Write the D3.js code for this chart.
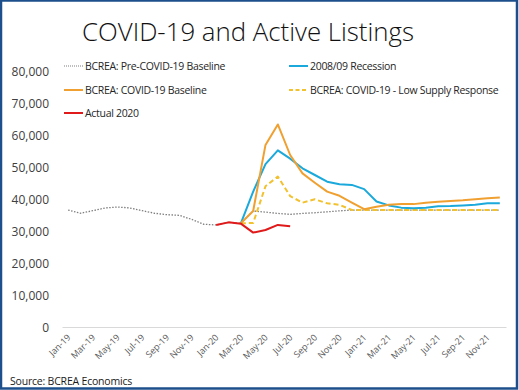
<!DOCTYPE html>
<html>
<head>
<meta charset="utf-8">
<script src="https://cdn.jsdelivr.net/npm/d3@7"></script>
<style>
html,body{margin:0;padding:0;background:#fff;}
svg{display:block;}
text{font-family:"Open Sans",sans-serif;}
</style>
</head>
<body>
<svg id="chart" width="519" height="390"></svg>
<script>
const months = ["Jan-19","Feb-19","Mar-19","Apr-19","May-19","Jun-19","Jul-19","Aug-19","Sep-19","Oct-19","Nov-19","Dec-19",
"Jan-20","Feb-20","Mar-20","Apr-20","May-20","Jun-20","Jul-20","Aug-20","Sep-20","Oct-20","Nov-20","Dec-20",
"Jan-21","Feb-21","Mar-21","Apr-21","May-21","Jun-21","Jul-21","Aug-21","Sep-21","Oct-21","Nov-21","Dec-21"];
const yTicks = [0,10000,20000,30000,40000,50000,60000,70000,80000];

// values start at the month index given by *Start
const preCovidStart = 0;
const preCovid = [36550,35550,36350,37200,37500,37200,36350,35550,35100,34900,33650,32100,
31900,32700,32400,36250,35900,35500,35200,35500,35700,36000,36300,36550,
36550,36550,36550,36550,36550,36550,36550,36550,36550,36550,36550,36550];
const recessionStart = 14;
const recession = [32400,42300,50900,55200,52600,49600,47500,45400,44600,44400,43100,39200,38000,37300,37100,37300,37700,37800,38000,38200,38650,38700];
const covidBaseStart = 14;
const covidBase = [32400,36250,56900,63300,53750,48000,45100,42300,41000,38850,36800,37600,38200,38400,38400,38850,39150,39400,39600,39900,40200,40500];
const lowSupplyStart = 14;
const lowSupply = [32400,32500,44000,47000,40900,38850,39900,38650,38200,36550,36550,36550,36550,36550,36550,36550,36550,36550,36550,36550,36550,36550];
const actualStart = 12;
const actual = [31900,32700,32300,29500,30300,31900,31500];

const svg = d3.select("#chart");
const W = 519, H = 390;

svg.append("rect").attr("x",1).attr("y",0.5).attr("width",W-3).attr("height",H-2)
  .attr("fill","#fff").attr("stroke","#1d4f8c").attr("stroke-width",2.5);

const x = d3.scaleBand().domain(months).range([62,506]);
const y = d3.scaleLinear().domain([0,80000]).range([327,71]);
const cx = m => x(m) + x.bandwidth()/2;

// title
svg.append("text").attr("x",248).attr("y",41).attr("text-anchor","middle")
  .attr("font-size",25).attr("font-weight",300).attr("fill","#111").attr("textLength",332).attr("lengthAdjust","spacingAndGlyphs")
  .text("COVID-19 and Active Listings");

// y axis
const yAxis = d3.axisLeft(y).tickValues(yTicks).tickSize(0).tickPadding(0)
  .tickFormat(d => d3.format(",")(d));
const gy = svg.append("g").attr("transform","translate(49,0)").call(yAxis);
gy.select(".domain").remove();
gy.selectAll("text").attr("font-size",12).attr("fill","#404040").attr("dy","0.35em")
  .style("font-family","'Open Sans',sans-serif");

// x axis
const xAxis = d3.axisBottom(x).tickValues(months.filter((m,i)=>i%2===0)).tickSize(0).tickPadding(0);
const gx = svg.append("g").attr("transform","translate(0,327)").call(xAxis);
gx.select(".domain").attr("stroke","#d9d9d9").attr("stroke-width",1);
gx.selectAll("text").attr("font-size",9).attr("fill","#595959")
  .attr("text-anchor","end").attr("dy",0).attr("y",0)
  .attr("transform","translate(3,11) rotate(-45)")
  .style("font-family","'Open Sans',sans-serif");

const line = (start) => d3.line().x((d,i)=>cx(months[start+i])).y(d=>y(d));

const series = [
  {name:"BCREA: Pre-COVID-19 Baseline", data:preCovid, start:preCovidStart, color:"#7f7f7f", width:1.3, dash:"1.5,1.5"},
  {name:"BCREA: COVID-19 - Low Supply Response", data:lowSupply, start:lowSupplyStart, color:"#f2c12e", width:2, dash:"5,3"},
  {name:"2008/09 Recession", data:recession, start:recessionStart, color:"#1ba9dc", width:2, dash:null},
  {name:"BCREA: COVID-19 Baseline", data:covidBase, start:covidBaseStart, color:"#f0a030", width:2, dash:null},
  {name:"Actual 2020", data:actual, start:actualStart, color:"#e01a1a", width:2, dash:null}
];

series.forEach(s => {
  svg.append("path").datum(s.data).attr("d", line(s.start))
    .attr("fill","none").attr("stroke",s.color).attr("stroke-width",s.width)
    .attr("stroke-dasharray",s.dash).attr("stroke-linejoin","round");
});

// legend
const legendItems = [
  {s:series[0], x:64, y:66},
  {s:series[2], x:289, y:66},
  {s:series[3], x:64, y:90},
  {s:series[1], x:289, y:90},
  {s:series[4], x:64, y:113}
];
legendItems.forEach(l => {
  svg.append("line").attr("x1",l.x).attr("x2",l.x+19).attr("y1",l.y).attr("y2",l.y)
    .attr("stroke",l.s.color).attr("stroke-width",l.s.dash==="1.5,1.5"?1.2:2)
    .attr("stroke-dasharray",l.s.dash==="1.5,1.5"?"1,1":(l.s.dash?"4,2.5":null));
  svg.append("text").attr("x",l.x+21).attr("y",l.y).attr("dy","0.35em")
    .attr("font-size",10.5).attr("fill","#262626").attr("letter-spacing","-0.3")
    .text(l.s.name);
});

svg.append("text").attr("x",10).attr("y",385).attr("font-size",10.5).attr("fill","#1a1a1a")
  .attr("letter-spacing","-0.2").text("Source: BCREA Economics");
</script>
</body>
</html>
